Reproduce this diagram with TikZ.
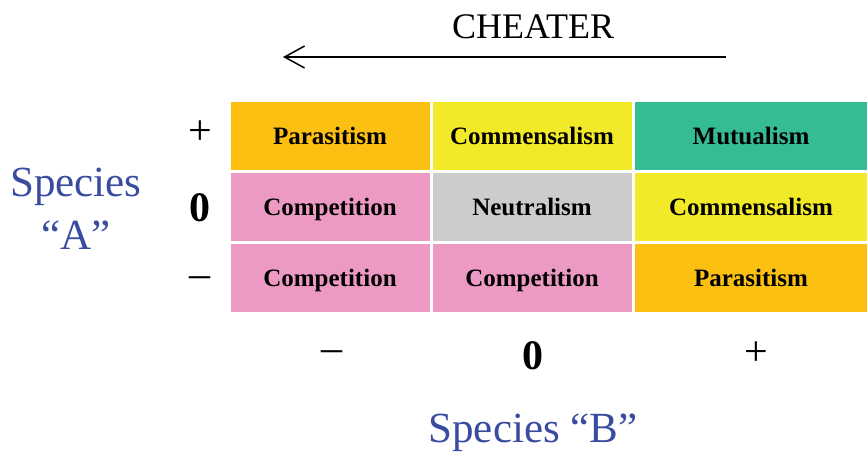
\documentclass[tikz,border=0pt]{standalone}
\usepackage{fontspec}
\setmainfont{Liberation Serif}
\usetikzlibrary{arrows.meta}
\definecolor{parcol}{RGB}{251,192,18}
\definecolor{comcol}{RGB}{242,234,40}
\definecolor{mutcol}{RGB}{54,188,148}
\definecolor{cmpcol}{RGB}{236,154,196}
\definecolor{neucol}{RGB}{204,204,202}
\definecolor{spcol}{RGB}{58,76,160}
\begin{document}
\begin{tikzpicture}[
		    x=1pt, y=-1pt,
		    cell/.style={draw=white, line width=3pt, inner sep=0pt,
		        text height=17pt, text depth=0pt,
		        font=\fontsize{25}{27}\selectfont\bfseries},
		    narrow/.style={cell, minimum width=202pt, minimum height=71pt},
		    wide/.style={cell, minimum width=236pt, minimum height=71pt},
		    sign/.style={font=\fontsize{42}{44}\selectfont},
		    species/.style={text=spcol, align=center, font=\fontsize{43}{53}\selectfont}]
		\useasboundingbox (0,0) rectangle (867,456);
		% top row (A = +)
		\node [narrow, fill=parcol] (par1) at (330,135.5) {Parasitism};
		\node [narrow, fill=comcol] (com1) at (532,135.5) {Commensalism};
		\node [wide, fill=mutcol] (mut) at (751,135.5) {Mutualism};
		% middle row (A = 0)
		\node [narrow, fill=cmpcol] (cmp1) at (330,207) {Competition};
		\node [narrow, fill=neucol] (neu) at (532,207) {Neutralism};
		\node [wide, fill=comcol] (com2) at (751,207) {Commensalism};
		% bottom row (A = -)
		\node [narrow, fill=cmpcol] (cmp2) at (330,278) {Competition};
		\node [narrow, fill=cmpcol] (cmp3) at (532,278) {Competition};
		\node [wide, fill=parcol] (par2) at (751,278) {Parasitism};
		% signs
		\node [sign] (rowplus) at (200,133) {+};
		\node [sign] (rowzero) at (200,208) {\bfseries 0};
		\node [sign] (rowminus) at (200,282) {–};
		\node [sign] (colminus) at (332,356) {–};
		\node [sign] (colzero) at (533,356) {\bfseries 0};
		\node [sign] (colplus) at (756,354) {+};
		% axis titles
		\node [species] (spA) at (76,209) {Species\\“A”};
		\node [species] (spB) at (533,433) {Species “B”};
		\node [font=\fontsize{36}{38}\selectfont] (cheat) at (533,27) {CHEATER};
		\coordinate (arrfrom) at (726,57);
		\coordinate (arrto) at (283,57);
		\draw [line width=1.6pt, -{Straight Barb[length=20pt, width=22pt, line width=1.5pt]}] (arrfrom) -- (arrto);
\end{tikzpicture}
\end{document}
